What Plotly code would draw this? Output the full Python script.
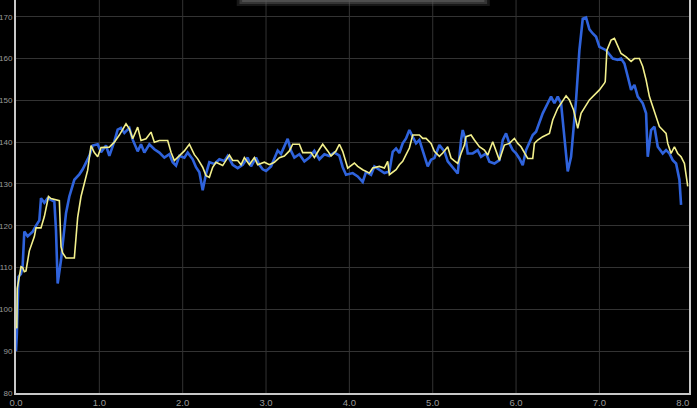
import plotly.graph_objects as go

# ---- data ----
blue_x = [0.0, 0.01, 0.03, 0.06, 0.08, 0.1, 0.14, 0.2, 0.24, 0.28, 0.3, 0.34, 0.38, 0.46, 0.48, 0.5, 0.54, 0.56,
          0.6, 0.64, 0.7, 0.76, 0.8, 0.88, 0.92, 0.98, 1.02, 1.08, 1.12, 1.18, 1.22, 1.26, 1.3, 1.36, 1.4, 1.46,
          1.5, 1.54, 1.6, 1.66, 1.72, 1.78, 1.84, 1.88, 1.92, 1.96, 2.02, 2.06, 2.12, 2.16, 2.2, 2.24, 2.28, 2.32,
          2.38, 2.44, 2.5, 2.54, 2.6, 2.66, 2.72, 2.78, 2.82, 2.88, 2.92, 2.96, 3.0, 3.06, 3.1, 3.14, 3.18, 3.22,
          3.26, 3.3, 3.34, 3.4, 3.46, 3.52, 3.58, 3.64, 3.7, 3.76, 3.82, 3.88, 3.92, 3.96, 4.04, 4.1, 4.16, 4.2,
          4.26, 4.3, 4.36, 4.42, 4.48, 4.52, 4.56, 4.6, 4.64, 4.68, 4.72, 4.76, 4.8, 4.84, 4.9, 4.94, 4.98, 5.02,
          5.08, 5.14, 5.18, 5.24, 5.3, 5.34, 5.36, 5.4, 5.42, 5.48, 5.54, 5.58, 5.64, 5.68, 5.74, 5.8, 5.84, 5.88,
          5.92, 5.96, 6.0, 6.04, 6.08, 6.12, 6.16, 6.2, 6.24, 6.28, 6.32, 6.38, 6.42, 6.46, 6.5, 6.54, 6.58, 6.62,
          6.66, 6.7, 6.72, 6.76, 6.8, 6.84, 6.88, 6.92, 6.96, 7.0, 7.08, 7.16, 7.22, 7.26, 7.3, 7.34, 7.38, 7.42,
          7.46, 7.52, 7.56, 7.58, 7.62, 7.66, 7.7, 7.76, 7.8, 7.84, 7.88, 7.92, 7.96, 7.98]
blue_y = [90, 94, 107.8, 108.5, 110.5, 118.6, 117.5, 118.6, 120, 121.3, 126.6, 125.5, 126.6, 125.8, 118.9, 106.2,
          111.8, 115.8, 123, 127, 131, 132.3, 133.5, 136.7, 139.2, 139.5, 137.6, 139.2, 136.7, 140.2, 143, 143.4,
          142.2, 143.4, 140.6, 137.8, 139.5, 137.5, 139.5, 138.3, 137.5, 136.3, 137.1, 135.2, 134.4, 136.7, 136.3,
          137.5, 135.9, 134, 132.8, 128.5, 132.4, 135.2, 134.8, 135.9, 135.5, 136.7, 134.6, 133.8, 134.6, 136.3,
          134.2, 136.3, 134.6, 133.5, 133.1, 134.2, 136.3, 138, 137.2, 139.2, 140.8, 137.9, 136.3, 137.1, 135.4,
          136.3, 137.9, 135.9, 137.1, 136.7, 137.5, 136.8, 134, 132.2, 132.6, 131.8, 130.5, 132.9, 132.2, 134.2,
          133.4, 132.6, 133, 137.7, 138.5, 137.4, 139.7, 140.9, 142.9, 141.3, 139.7, 140.5, 137, 134.2, 135.8,
          136.2, 139.3, 137.8, 135.4, 133.8, 132.5, 140.5, 142.9, 140.1, 137.3, 137.3, 138.1, 136.5, 137.3, 135.3,
          134.9, 135.7, 140.5, 142.1, 139.7, 138.1, 137.3, 136.1, 134.5, 138.1, 140.1, 141.7, 142.5, 144.5, 146.9,
          149.3, 150.9, 149.3, 150.9, 149.3, 141.3, 133, 136.5, 145, 150.1, 162, 169.5, 169.8, 167, 166, 165.2,
          162.8, 162, 160, 159.7, 160, 158.8, 155.7, 152.5, 153.7, 150.9, 149.3, 146.9, 136.5, 142.9, 143.7, 138.9,
          137.3, 138.1, 137.3, 135.7, 134.9, 131, 125]

yellow_x = [0.0, 0.01, 0.015, 0.06, 0.08, 0.1, 0.12, 0.16, 0.22, 0.24, 0.3, 0.34, 0.39, 0.42, 0.52, 0.54, 0.56,
            0.6, 0.7, 0.74, 0.78, 0.82, 0.86, 0.9, 0.94, 0.98, 1.02, 1.12, 1.18, 1.24, 1.32, 1.36, 1.4, 1.46, 1.5,
            1.56, 1.62, 1.66, 1.72, 1.82, 1.86, 1.9, 1.96, 2.02, 2.08, 2.14, 2.18, 2.24, 2.28, 2.32, 2.36, 2.4,
            2.48, 2.56, 2.6, 2.66, 2.7, 2.74, 2.8, 2.86, 2.9, 2.98, 3.04, 3.1, 3.16, 3.22, 3.28, 3.32, 3.4, 3.44,
            3.54, 3.58, 3.64, 3.68, 3.74, 3.78, 3.84, 3.88, 3.92, 3.98, 4.06, 4.1, 4.16, 4.24, 4.28, 4.36, 4.42,
            4.46, 4.48, 4.56, 4.6, 4.64, 4.68, 4.72, 4.76, 4.84, 4.88, 4.92, 4.98, 5.02, 5.08, 5.12, 5.18, 5.22,
            5.26, 5.3, 5.34, 5.38, 5.4, 5.46, 5.5, 5.56, 5.62, 5.66, 5.72, 5.76, 5.8, 5.86, 5.92, 5.98, 6.02, 6.06,
            6.1, 6.14, 6.2, 6.22, 6.26, 6.32, 6.4, 6.44, 6.5, 6.54, 6.6, 6.64, 6.69, 6.74, 6.78, 6.88, 6.94, 7.0,
            7.06, 7.07, 7.09, 7.14, 7.18, 7.22, 7.26, 7.32, 7.38, 7.42, 7.48, 7.52, 7.56, 7.6, 7.64, 7.68, 7.72,
            7.76, 7.8, 7.82, 7.86, 7.9, 7.94, 7.98, 8.02, 8.06]
yellow_y = [96, 95.5, 105, 110.2, 110, 109, 109.2, 114, 117.4, 119.5, 119.5, 122.2, 127, 126.5, 126, 115, 113.5,
            112.3, 112.3, 122, 127, 130.2, 133.3, 139.2, 137.5, 136.5, 138.7, 138.8, 140, 141.7, 144.4, 143.2,
            140.8, 143.6, 140.4, 140.8, 142.4, 140, 140.4, 140.4, 137.6, 135.6, 136.7, 137.9, 139.5, 137, 136, 134,
            132, 131.6, 134, 135.2, 134.4, 136.9, 135.6, 135.6, 134.6, 136.3, 134.6, 136.3, 134.6, 135.2, 134.6,
            135.2, 136.3, 136.7, 137.9, 139.5, 139.5, 137.5, 137.5, 136.3, 138.3, 139.5, 137.9, 136.7, 137.9,
            139.5, 137.8, 133.8, 135, 134.2, 133.4, 132.6, 133.8, 134.2, 133.8, 135.4, 132.2, 133.4, 134.6, 135.4,
            137, 138.6, 141.7, 141.7, 140.9, 140.9, 139.7, 137.8, 136.6, 137.4, 138.9, 136.2, 135.5, 134.9, 137.3,
            139.3, 141.3, 141.7, 140.5, 138.9, 138.1, 136.9, 140.1, 138.1, 135.7, 139.3, 139.7, 140.9, 139.7, 138.9,
            137.3, 136.1, 136.1, 139.7, 140.5, 141.3, 142.1, 145.3, 148.1, 149.3, 151.1, 150.1, 147.7, 143.3, 146.9,
            150.1, 151.3, 152.5, 154.1, 154.5, 162, 164.4, 164.8, 163.2, 161.2, 160.4, 159.3, 160, 160, 158.1,
            154.9, 150.9, 148.5, 146.1, 143.7, 142.9, 142.1, 139.7, 137.3, 138.9, 137.3, 136.5, 134.9, 129.4]

x_ticks = [0, 1, 2, 3, 4, 5, 6, 7, 8]
x_tick_labels = ["0.0", "1.0", "2.0", "3.0", "4.0", "5.0", "6.0", "7.0", "8.0"]
y_ticks = [80, 90, 100, 110, 120, 130, 140, 150, 160, 170]

fig = go.Figure()
fig.add_trace(go.Scatter(x=blue_x, y=blue_y, mode="lines",
                         line=dict(color="#2f63dc", width=2.6), showlegend=False, hoverinfo="skip"))
fig.add_trace(go.Scatter(x=yellow_x, y=yellow_y, mode="lines",
                         line=dict(color="#f3f08c", width=1.6), showlegend=False, hoverinfo="skip"))

shapes = []
for v in x_ticks[1:-1]:
    shapes.append(dict(type="line", xref="x", yref="paper", x0=v, x1=v, y0=0, y1=1,
                       line=dict(color="#333333", width=1), layer="below"))
# faint bar at the top edge (partially hidden overlay in the reference)
for i, (op, h) in enumerate([(0.25, 6), (0.45, 4), (0.7, 2)]):
    shapes.append(dict(type="rect", xref="paper", yref="paper",
                       x0=0.328 + 0.004 * i, x1=0.704 - 0.004 * i,
                       y0=1 - h / 393, y1=1.02, fillcolor="#5a5a5a", opacity=op,
                       line=dict(width=0), layer="above"))

fig.update_layout(
    width=697, height=408,
    margin=dict(l=16, r=8, t=0, b=15, pad=0),
    paper_bgcolor="#000000", plot_bgcolor="#000000",
    font=dict(family="Liberation Sans, Arial, sans-serif", size=9, color="#9a9a9a"),
    shapes=shapes,
    xaxis=dict(range=[0, 8.075], tickvals=x_ticks, ticktext=x_tick_labels, showgrid=False,
               zeroline=False, showline=True, linecolor="#c8c8c8", linewidth=2, ticks="", ticklen=0,
               automargin=False, tickfont=dict(size=9.5, color="#9a9a9a")),
    yaxis=dict(range=[80, 174], tickvals=y_ticks, showgrid=True, gridcolor="#333333", gridwidth=1,
               zeroline=False, showline=True, linecolor="#c8c8c8", linewidth=2, mirror=True, ticks="",
               ticklen=0, automargin=False, ticklabelstandoff=0, tickfont=dict(size=8, color="#9a9a9a")),
)

fig.write_html("out.html", config={"displayModeBar": False},
               post_script="document.body.style.margin='0';document.body.style.background='#000';")
